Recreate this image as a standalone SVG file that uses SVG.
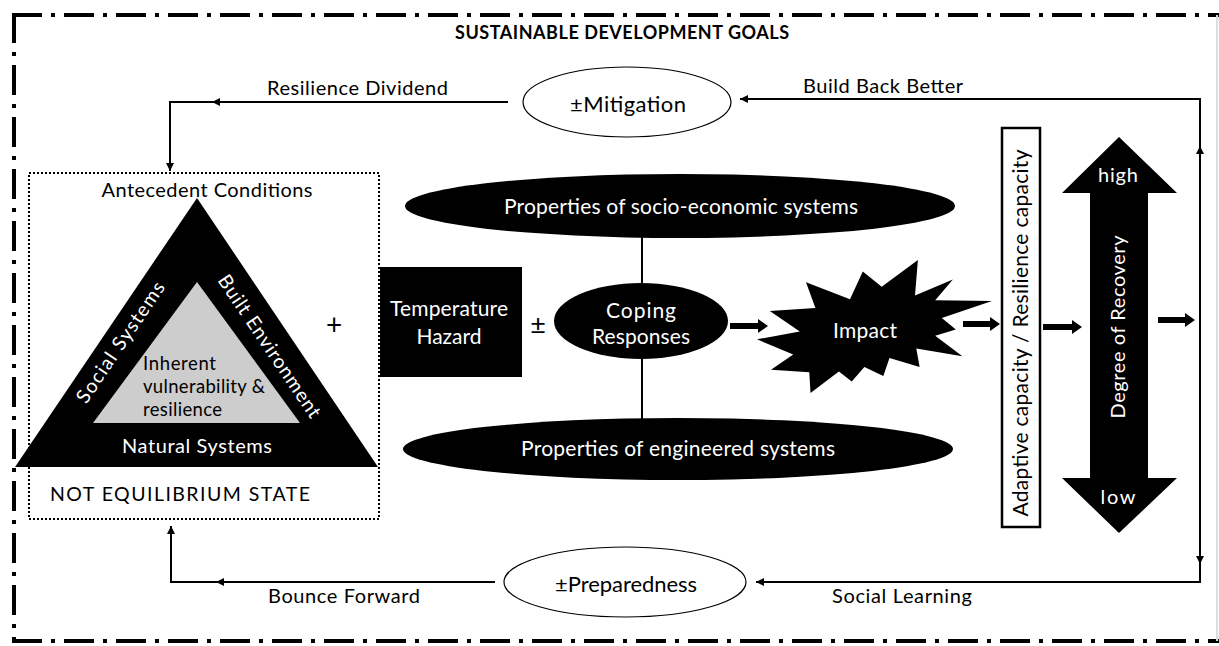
<svg xmlns="http://www.w3.org/2000/svg" width="1219" height="646" viewBox="0 0 1219 646">
<style>
text{font-family:Lato,"Open Sans","Liberation Sans",sans-serif;fill:#000}
.w{fill:#fff}
.c{text-anchor:middle}
.thin{fill:none;stroke:#000;stroke-width:2}
.blk{fill:#000}
.bd{fill:none;stroke:#000;stroke-width:4;stroke-dasharray:30 9 4 9}
</style>
<defs>
<marker id="ah" viewBox="0 0 10 10" refX="10" refY="5" markerWidth="9" markerHeight="8" markerUnits="userSpaceOnUse" orient="auto"><path d="M0,0 L10,5 L0,10 z" fill="#000"/></marker>
</defs>
<rect width="1219" height="646" fill="#fff"/>
<g id="border">
<line class="bd" x1="12" y1="15" x2="1219" y2="15"/>
<line class="bd" x1="14" y1="13" x2="14" y2="641"/>
<line class="bd" x1="12" y1="641" x2="1219" y2="641"/>
<line x1="1217" y1="15" x2="1217" y2="641" stroke="#ddd" stroke-width="2"/>
<text class="c" x="622" y="39" font-size="18" font-weight="bold" textLength="334">SUSTAINABLE DEVELOPMENT GOALS</text>
</g>
<g id="connectors">
<path class="thin" d="M508,102 H212" marker-end="url(#ah)"/>
<path class="thin" d="M214,102 H170 V171" marker-end="url(#ah)"/>
<path class="thin" d="M1200,150 V99 H740" marker-end="url(#ah)"/>
<path class="thin" d="M1200,322 V146" marker-end="url(#ah)"/>
<path class="thin" d="M1200,322 V564" marker-end="url(#ah)"/>
<path class="thin" d="M1200,560 V582 H756" marker-end="url(#ah)"/>
<path class="thin" d="M495,582 H216" marker-end="url(#ah)"/>
<path class="thin" d="M218,582 H171 V526" marker-end="url(#ah)"/>
<path class="thin" d="M642,236 V284 M642,358 V420"/>
<path class="blk" d="M730,323 H758 V319 L768,326 L758,333 V329 H730 Z"/>
<path class="blk" d="M963,321 H990 V317 L1000,324 L990,331 V327 H963 Z"/>
<path class="blk" d="M1043,324 H1072 V320 L1082,327 L1072,334 V330 H1043 Z"/>
<path class="blk" d="M1158,317 H1185 V313 L1195,320 L1185,327 V323 H1158 Z"/>
<text x="267" y="95" font-size="20" textLength="181">Resilience Dividend</text>
<text x="803" y="93" font-size="20" textLength="160">Build Back Better</text>
<text x="268" y="603" font-size="20" textLength="152">Bounce Forward</text>
<text x="832" y="603" font-size="20" textLength="140">Social Learning</text>
</g>
<g id="mitigation">
<ellipse cx="627" cy="102" rx="104" ry="35" fill="#fff" stroke="#000" stroke-width="1.2"/>
<text x="570" y="112" font-size="22" textLength="116">±Mitigation</text>
</g>
<g id="preparedness">
<ellipse cx="625" cy="582" rx="121" ry="35" fill="#fff" stroke="#000" stroke-width="1.2"/>
<text x="555" y="592" font-size="22" textLength="142">±Preparedness</text>
</g>
<g id="antecedent">
<rect x="29" y="173" width="350" height="346" fill="none" stroke="#000" stroke-width="2" stroke-dasharray="2 2"/>
<text class="c" x="207" y="197" font-size="20" textLength="211">Antecedent Conditions</text>
<polygon points="197,198 15,467 378,467" fill="#000"/>
<polygon points="197,282 93,423 300,423" fill="#cdcdcd"/>
<text x="143" y="370" font-size="18.5" fill="#222" textLength="73">Inherent</text>
<text x="143" y="393" font-size="18.5" fill="#222" textLength="122">vulnerability &amp;</text>
<text x="143" y="416" font-size="18.5" fill="#222" textLength="79">resilience</text>
<text class="c w" x="197" y="453" font-size="20" textLength="150">Natural Systems</text>
<text class="c w" transform="translate(126,346) rotate(-56)" font-size="19.5" textLength="142">Social Systems</text>
<text class="c w" transform="translate(264,350) rotate(56)" font-size="19.5" textLength="168">Built Environment</text>
<text class="c" x="180" y="501" font-size="19.5" textLength="260">NOT EQUILIBRIUM STATE</text>
</g>
<g id="plus"><text class="c" x="334" y="335" font-size="28">+</text></g>
<g id="hazard">
<rect x="380" y="267" width="142" height="110" fill="#000"/>
<text class="c w" x="449" y="316" font-size="21" textLength="118">Temperature</text>
<text class="c w" x="449" y="344" font-size="21" textLength="65">Hazard</text>
</g>
<g id="pm"><text class="c" x="538" y="334" font-size="27">±</text></g>
<g id="socio">
<ellipse cx="680" cy="206" rx="275" ry="32" fill="#000"/>
<text class="c w" x="681" y="214" font-size="21" textLength="354">Properties of socio-economic systems</text>
</g>
<g id="engineered">
<ellipse cx="678" cy="449" rx="275" ry="31" fill="#000"/>
<text class="c w" x="678" y="456" font-size="21" textLength="314">Properties of engineered systems</text>
</g>
<g id="coping">
<ellipse cx="641" cy="321" rx="87" ry="38" fill="#000"/>
<text class="c w" x="641" y="318" font-size="21" textLength="70">Coping</text>
<text class="c w" x="641" y="344" font-size="21" textLength="98">Responses</text>
</g>
<g id="impact">
<polygon fill="#000" points="881.7,286.7 917.9,260 915,295.6 952.9,279.5 935.2,300.2 992,300.9 941.8,317.9 955.8,329.5 935.2,335.8 962.4,356.3 916.3,348.4 919.6,367 889.5,358.1 883.3,376 864.4,367 851.7,381.4 838.9,371.6 810.5,393 809.3,372.3 771,369.8 793.2,354.6 757,339.3 799.8,331.4 769.8,310.9 815.4,308.1 806,282.3 850,299.3 862.8,271.6"/>
<text class="c w" x="865" y="338" font-size="21" textLength="64">Impact</text>
</g>
<g id="capacity">
<rect x="1002" y="128" width="38" height="399" fill="#fff" stroke="#000" stroke-width="2.5"/>
<text class="c" transform="translate(1028,333) rotate(-90)" font-size="21" textLength="367">Adaptive capacity / Resilience capacity</text>
</g>
<g id="recovery">
<polygon fill="#000" points="1119,137 1177,193 1148,193 1148,478 1177,478 1119,533 1062,478 1090,478 1090,193 1062,193"/>
<text class="c w" x="1118" y="182" font-size="20" textLength="40">high</text>
<text class="c w" x="1118" y="504" font-size="20" textLength="35">low</text>
<text class="c w" transform="translate(1125,327) rotate(-90)" font-size="20" textLength="183">Degree of Recovery</text>
</g>
</svg>
